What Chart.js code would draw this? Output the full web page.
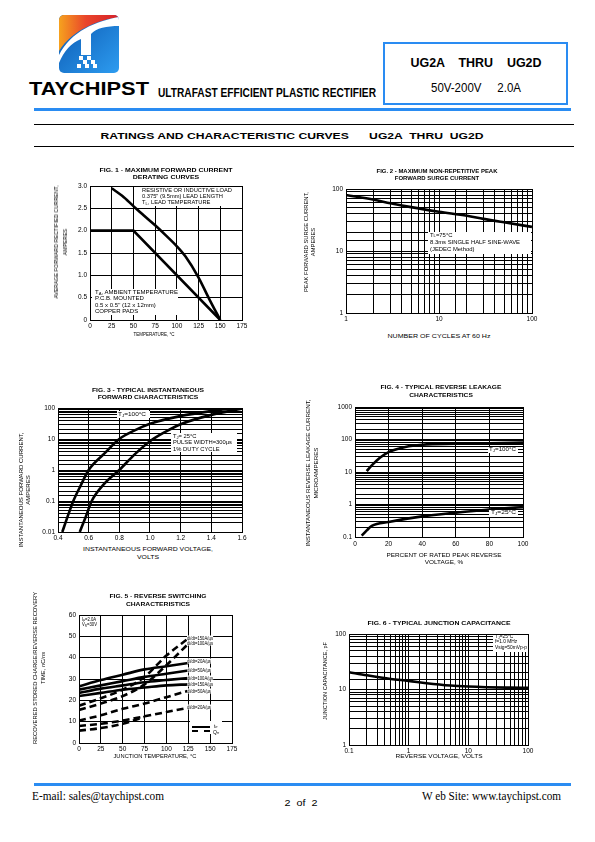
<!DOCTYPE html>
<html>
<head>
<meta charset="utf-8">
<script src="https://cdn.jsdelivr.net/npm/chart.js@4.4.1/dist/chart.umd.min.js"></script>
<style>
  html, body { margin: 0; padding: 0; background: #fff; }
  #page { position: relative; width: 595px; height: 842px; overflow: hidden;
          font-family: 'Liberation Sans', Arial, sans-serif; color: #000; }
  canvas { position: absolute; z-index: 1; }
  .t { position: absolute; white-space: pre; line-height: 1; z-index: 3; }
  .bg { position: absolute; background: #fff; z-index: 2; }
  .ln { position: absolute; z-index: 2; }
  sub { font-size: 70%; vertical-align: -0.25em; line-height: 0; }
</style>
</head>
<body>
<div id="page">
  <svg style="position:absolute;left:59px;top:15px" width="60" height="58" viewBox="0 0 60 58">
    <defs>
      <linearGradient id="gb" x1="0" y1="0" x2="1" y2="1">
        <stop offset="0" stop-color="#0b57b0"/><stop offset="1" stop-color="#2d9cf0"/>
      </linearGradient>
      <linearGradient id="gr" x1="0" y1="0" x2="1" y2="0">
        <stop offset="0" stop-color="#f6a21e"/><stop offset="0.45" stop-color="#e9452b"/><stop offset="1" stop-color="#d6202a"/>
      </linearGradient>
      <clipPath id="cp"><rect width="60" height="58" rx="5"/></clipPath>
    </defs>
    <g clip-path="url(#cp)">
      <rect width="60" height="58" fill="url(#gb)"/>
      <path d="M0,0 H60 V2 C40,5 14,14 0,36 Z" fill="url(#gr)"/>
      <path d="M0,40 C12,16 38,6 60,2 V11 C48,11 37,13 32,19 L32,40 L22,40 L22,24 C12,28 5,36 0,48 Z" fill="#fff"/>
      <rect x="20" y="41" width="4" height="4" fill="#fff"/><rect x="28" y="41" width="4" height="4" fill="#fff"/>
      <rect x="24" y="45" width="4" height="4" fill="#fff"/><rect x="32" y="45" width="4" height="4" fill="#fff"/>
      <rect x="18" y="49" width="4" height="4" fill="#fff"/><rect x="26" y="49" width="4" height="4" fill="#fff"/><rect x="34" y="49" width="4" height="4" fill="#fff"/>
    </g>
  </svg>
  <div class="ln" style="left:383px;top:42px;width:185px;height:63px;border:2px solid #2a8cf2;box-sizing:border-box"></div>
  <div class="ln" style="left:34px;top:108px;width:537px;height:3px;background:#2a8cf2"></div>
  <div class="ln" style="left:34px;top:124px;width:540px;height:1px;background:#000"></div>
  <div class="ln" style="left:34px;top:146px;width:540px;height:1px;background:#000"></div>
  <div class="ln" style="left:34px;top:783px;width:537px;height:3px;background:#2a8cf2"></div>
</div>
<script>
// Fig. 1 - derating curves
const f1UpperT = [25, 37, 50, 62, 75, 87, 100, 110, 125, 137, 150];
const f1UpperA = [2.95, 2.78, 2.55, 2.34, 2.12, 1.9, 1.65, 1.42, 0.95, 0.48, 0];
const f1LowerT = [0, 50, 150];
const f1LowerA = [2.0, 2.0, 0];
const f1XTicks = [0, 175, 25];
const f1YTicks = [0, 3, 0.5];

// Fig. 2 - surge current
const f2Cycles = [1, 2, 3, 5, 10, 20, 30, 50, 100];
const f2Amps = [80, 67, 59, 51, 43, 37, 33, 29, 24.5];

// Fig. 3 - forward characteristics
const f3V100 = [0.428, 0.47, 0.5, 0.55, 0.6, 0.7, 0.8, 0.9, 1.0, 1.2, 1.4, 1.56];
const f3I100 = [0.01, 0.04, 0.1, 0.33, 1, 3.3, 10, 19, 31, 55, 80, 100];
const f3V25 = [0.542, 0.58, 0.62, 0.7, 0.8, 0.9, 1.0, 1.1, 1.2, 1.4, 1.6];
const f3I25 = [0.01, 0.03, 0.1, 0.35, 1, 3.2, 8.5, 17, 30, 60, 95];
const f3XTicks = [0.4, 1.6, 0.2];

// Fig. 4 - reverse leakage
const f4P100 = [7, 10, 15, 20, 30, 40, 60, 80, 100];
const f4I100 = [10.7, 16, 28, 41, 59, 69, 74, 77, 80];
const f4P25 = [4, 7, 10, 20, 40, 60, 80, 100];
const f4I25 = [0.11, 0.16, 0.22, 0.29, 0.43, 0.56, 0.7, 0.83];
const f4XTicks = [0, 100, 20];

// Fig. 5 - reverse switching
const f5T = [0, 25, 50, 75, 100, 125];
const f5Trr20 = [26.5, 29.5, 32, 34.5, 36, 37.5];
const f5Trr50 = [25, 27, 29, 31, 32.5, 34];
const f5Trr100 = [23.5, 25.5, 27, 28.5, 29.5, 30.5];
const f5Trr150 = [22, 23.5, 25, 26, 27, 27.5];
const f5Qrr150 = [17.5, 21, 25, 31, 41, 49];
const f5Qrr100 = [15.5, 18.5, 22, 27.5, 36.5, 46.5];
const f5Qrr50 = [10.5, 13, 16, 18.5, 21.5, 24.5];
const f5Qrr20 = [8, 9, 10.5, 12.5, 14.5, 16.5];
const f5LowT = [0, 25, 50, 75];
const f5LowQ = [5.8, 7, 9, 12.3];
const f5XTicks = [0, 175, 25];
const f5YTicks = [0, 60, 10];

// Fig. 6 - junction capacitance
const f6V = [0.1, 0.2, 0.5, 1, 2, 5, 10, 20, 50, 100];
const f6C = [20.5, 18, 15.5, 14.3, 13, 11.8, 11.3, 11, 10.8, 10.7];

const page = document.getElementById('page');
Chart.defaults.font.family = "'Liberation Sans', Arial, sans-serif";
Chart.defaults.font.size = 6.5;
Chart.defaults.color = '#000';

// texte positionné, compressé à la largeur voulue
function put(x, y, html, o) {
  o = o || {};
  const d = document.createElement('div');
  d.className = 't';
  d.innerHTML = html;
  d.style.left = x + 'px';
  d.style.top = y + 'px';
  d.style.fontSize = (o.size || 6) + 'px';
  if (o.bold) d.style.fontWeight = 'bold';
  if (o.lh) d.style.lineHeight = o.lh + 'px';
  if (o.font) d.style.fontFamily = o.font;
  d.style.textAlign = o.left ? 'left' : 'center';
  if (o.white) d.style.background = '#fff';
  page.appendChild(d);
  const sx = o.w ? o.w / d.getBoundingClientRect().width : 1;
  if (o.rot) {
    d.style.transform = `translate(-50%,-50%) rotate(-90deg) scaleX(${sx})`;
  } else if (o.left) {
    d.style.transformOrigin = '0 50%';
    d.style.transform = `translateY(-50%) scaleX(${sx})`;
  } else {
    d.style.transform = `translate(-50%,-50%) scaleX(${sx})`;
  }
}

function bg(x1, y1, x2, y2) {
  const d = document.createElement('div');
  d.className = 'bg';
  Object.assign(d.style, { left: x1 + 'px', top: y1 + 'px', width: (x2 - x1) + 'px', height: (y2 - y1) + 'px' });
  page.appendChild(d);
}

const isDecade = v => Math.abs(Math.log10(v) - Math.round(Math.log10(v))) < 1e-6;
const logFmt = v => isDecade(v) ? String(+v.toPrecision(3)) : '';

function curve(xs, ys, opts) {
  return Object.assign({
    data: xs.map((x, i) => ({ x, y: ys[i] })),
    borderColor: '#000', borderWidth: 2.6, pointRadius: 0,
    cubicInterpolationMode: 'monotone', fill: false
  }, opts || {});
}

// rect = [gauche, haut, droite, bas] de la zone de tracé
function chart(rect, xa, ya, datasets) {
  const L = 30, T = 8, R = 12, B = 14;
  const cv = document.createElement('canvas');
  cv.width = rect[2] - rect[0] + L + R;
  cv.height = rect[3] - rect[1] + T + B;
  cv.style.left = (rect[0] - L) + 'px';
  cv.style.top = (rect[1] - T) + 'px';
  page.appendChild(cv);
  const axis = (pos, a) => ({
    type: a.type || 'linear', position: pos, min: a.min, max: a.max,
    afterFit: s => { if (pos === 'left') s.width = L; else s.height = B; },
    grid: { color: '#000', lineWidth: 1, drawTicks: false },
    border: { color: '#000', width: 1 },
    ticks: { padding: a.pad || 2, autoSkip: false, maxRotation: 0, stepSize: a.step, callback: a.fmt }
  });
  return new Chart(cv, {
    type: 'line',
    data: { datasets },
    options: {
      responsive: false, animation: false, events: [],
      layout: { padding: { top: T, right: R, left: 0, bottom: 0 } },
      plugins: { legend: { display: false }, tooltip: { enabled: false } },
      scales: { x: axis('bottom', xa), y: axis('left', ya) }
    }
  });
}

// ---------- en-tête ----------
put(88.8, 88.5, 'TAYCHIPST', { size: 18, bold: true, w: 120 });
put(267, 93, 'ULTRAFAST EFFICIENT PLASTIC RECTIFIER', { size: 12, bold: true, w: 218 });
put(475.5, 62, 'UG2A    THRU    UG2D', { size: 13, bold: true, w: 131 });
put(476, 88, '50V-200V     2.0A', { size: 12, w: 90 });
put(291.5, 136, 'RATINGS AND CHARACTERISTIC CURVES      UG2A  THRU  UG2D', { size: 9.5, bold: true, w: 383 });

// ---------- Fig. 1 ----------
chart([90, 186, 242, 320],
  { min: f1XTicks[0], max: f1XTicks[1], step: f1XTicks[2], fmt: v => String(v) },
  { min: f1YTicks[0], max: f1YTicks[1], step: f1YTicks[2], pad: 3, fmt: v => v === 0 ? '0' : v.toFixed(1) },
  [curve(f1UpperT, f1UpperA), curve(f1LowerT, f1LowerA, { cubicInterpolationMode: 'default', tension: 0 })]);
put(166, 173.5, 'FIG. 1 - MAXIMUM FORWARD CURRENT<br>DERATING CURVES', { size: 6, bold: true, lh: 7, w: 133 });
put(61, 242, 'AVERAGE FORWARD RECTIFIED CURRENT,<br>AMPERES', { size: 6, lh: 9, rot: true, w: 113 });
put(153.7, 334, 'TEMPERATURE, °C', { size: 6, w: 41 });
bg(140, 186.5, 241.5, 206);
put(142, 195.6, 'RESISTIVE OR INDUCTIVE LOAD<br>0.375" (9.5mm) LEAD LENGTH<br>T<sub>L</sub>, LEAD TEMPERATURE', { size: 5.5, lh: 6.3, left: true, w: 90 });
bg(92, 289, 178, 315);
put(95, 302.2, 'T<sub>A</sub>, AMBIENT TEMPERATURE<br>P.C.B. MOUNTED<br>0.5 x 0.5" (12 x 12mm)<br>COPPER PADS', { size: 5.5, lh: 6.3, left: true, w: 83 });

// ---------- Fig. 2 ----------
chart([346, 189, 532, 313],
  { type: 'logarithmic', min: 1, max: 100, fmt: logFmt },
  { type: 'logarithmic', min: 1, max: 100, pad: 3, fmt: logFmt },
  [curve(f2Cycles, f2Amps)]);
put(436.5, 174.5, 'FIG. 2 - MAXIMUM NON-REPETITIVE PEAK<br>FORWARD SURGE CURRENT', { size: 6, bold: true, lh: 7, w: 121 });
put(309.7, 241.7, 'PEAK FORWARD SURGE CURRENT,<br>AMPERES', { size: 6, lh: 7.3, rot: true, w: 100 });
put(438.7, 335.7, 'NUMBER OF CYCLES AT 60 Hz', { size: 6, w: 103 });
bg(428, 232, 531, 254);
put(430, 242, 'T<sub>L</sub>=75°C<br>8.3ms SINGLE HALF SINE-WAVE<br>(JEDEC Method)', { size: 5.5, lh: 7, left: true, w: 90 });

// ---------- Fig. 3 ----------
chart([58, 408, 242, 532],
  { min: f3XTicks[0], max: f3XTicks[1], step: f3XTicks[2], fmt: v => v.toFixed(1) },
  { type: 'logarithmic', min: 0.01, max: 100, pad: 3, fmt: logFmt },
  [curve(f3V100, f3I100), curve(f3V25, f3I25)]);
put(147.5, 393.5, 'FIG. 3 - TYPICAL INSTANTANEOUS<br>FORWARD CHARACTERISTICS', { size: 6, bold: true, lh: 7, w: 112 });
put(25.3, 490, 'INSTANTANEOUS FORWARD CURRENT,<br>AMPERES', { size: 6, lh: 7.3, rot: true, w: 115 });
put(148.3, 554, 'INSTANTANEOUS FORWARD VOLTAGE,<br>VOLTS', { size: 6, lh: 7.7, w: 130 });
bg(116.7, 411, 150, 418.3);
put(118.3, 414.7, 'T<sub>J</sub>=100°C', { size: 5.5, left: true, w: 28 });
bg(171, 433.3, 236.7, 451.7);
put(172.7, 442.2, 'T<sub>J</sub>= 25°C<br>PULSE WIDTH=300µs<br>1% DUTY CYCLE', { size: 5.5, lh: 6.2, left: true, w: 59 });

// ---------- Fig. 4 ----------
chart([355, 407, 523, 537],
  { min: f4XTicks[0], max: f4XTicks[1], step: f4XTicks[2], pad: 3, fmt: v => String(v) },
  { type: 'logarithmic', min: 0.1, max: 1000, pad: 3, fmt: logFmt },
  [curve(f4P100, f4I100), curve(f4P25, f4I25)]);
put(441.3, 390.5, 'FIG. 4 - TYPICAL REVERSE LEAKAGE<br>CHARACTERISTICS', { size: 6, bold: true, lh: 8, w: 121 });
put(312.9, 473.3, 'INSTANTANEOUS REVERSE LEAKAGE CURRENT,<br>MICROAMPERES', { size: 6, lh: 7.7, rot: true, w: 147 });
put(444, 559.5, 'PERCENT OF RATED PEAK REVERSE<br>VOLTAGE, %', { size: 6, lh: 7.7, w: 115 });
bg(487.7, 446.7, 518.3, 453.3);
put(489, 450, 'T<sub>J</sub>=100°C', { size: 5.5, left: true, w: 27 });
bg(489, 510, 518, 516.7);
put(491, 513.3, 'T<sub>J</sub>=25°C', { size: 5.5, left: true, w: 25 });

// ---------- Fig. 5 ----------
const dash = { borderDash: [7, 4] };
chart([79, 615, 232, 743],
  { min: f5XTicks[0], max: f5XTicks[1], step: f5XTicks[2], fmt: v => String(v) },
  { min: f5YTicks[0], max: f5YTicks[1], step: f5YTicks[2], pad: 3, fmt: v => String(v) },
  [curve(f5T, f5Trr20), curve(f5T, f5Trr50), curve(f5T, f5Trr100), curve(f5T, f5Trr150),
   curve(f5T, f5Qrr150, dash), curve(f5T, f5Qrr100, dash), curve(f5T, f5Qrr50, dash), curve(f5T, f5Qrr20, dash),
   curve(f5LowT, f5LowQ, dash)]);
put(158, 600, 'FIG. 5 - REVERSE SWITCHING<br>CHARACTERISTICS', { size: 6, bold: true, lh: 8, w: 97 });
put(39, 667.5, 'RECOVERED STORED CHARGE/REVERSE RECOVERY<br>TIME, nC/ns', { size: 6, lh: 8, rot: true, w: 152 });
put(155, 755.7, 'JUNCTION TEMPERATURE, °C', { size: 6, w: 83 });
put(81.7, 621.8, 'I<sub>F</sub>=2.0A<br>V<sub>R</sub>=30V', { size: 5, lh: 5, left: true, w: 15, white: true });
const f5Labels = [['150', 637.7], ['100', 643.3], ['20', 661], ['50', 670.3], ['100', 678.3], ['150', 684.3], ['50', 690.7], ['20', 707.3]];
f5Labels.forEach(([r, y]) => put(186.7, y, 'di/dt=' + r + 'A/µs', { size: 5, left: true, w: r.length === 3 ? 26 : 24, white: true }));
bg(190, 721, 222, 734);
const legSolid = document.createElement('div');
legSolid.className = 'ln';
legSolid.style.cssText = 'left:191.7px;top:725.5px;width:18px;border-top:2.6px solid #000;z-index:4';
page.appendChild(legSolid);
const legDash = document.createElement('div');
legDash.className = 'ln';
legDash.style.cssText = 'left:191.7px;top:730px;width:18px;border-top:2.6px dashed #000;z-index:4';
page.appendChild(legDash);
put(214, 726, 't<sub>rr</sub>', { size: 5, left: true });
put(213, 731.5, 'Q<sub>rr</sub>', { size: 5, left: true });

// ---------- Fig. 6 ----------
chart([349, 634, 528, 745],
  { type: 'logarithmic', min: 0.1, max: 100, fmt: logFmt },
  { type: 'logarithmic', min: 1, max: 100, pad: 3, fmt: logFmt },
  [curve(f6V, f6C)]);
put(438.7, 623.3, 'FIG. 6 - TYPICAL JUNCTION CAPACITANCE', { size: 6, bold: true, w: 143 });
put(325, 680.8, 'JUNCTION CAPACITANCE, pF', { size: 6, rot: true, w: 78 });
put(439.3, 755.7, 'REVERSE VOLTAGE, VOLTS', { size: 6, w: 87 });
bg(493, 635, 528, 651.7);
put(495, 642.5, 'T<sub>J</sub>=25°C<br>f=1.0 MHz<br>Vsig=50mVp-p', { size: 5, lh: 5.8, left: true, w: 32 });

// ---------- pied de page ----------
put(32, 796, 'E-mail: sales@taychipst.com', { size: 12, left: true, font: "'Liberation Serif', serif", w: 132 });
put(300.5, 803, '2  of  2', { size: 9, w: 33 });
put(422, 796, 'W eb Site: www.taychipst.com', { size: 12, left: true, font: "'Liberation Serif', serif", w: 139 });
</script>
</body>
</html>
